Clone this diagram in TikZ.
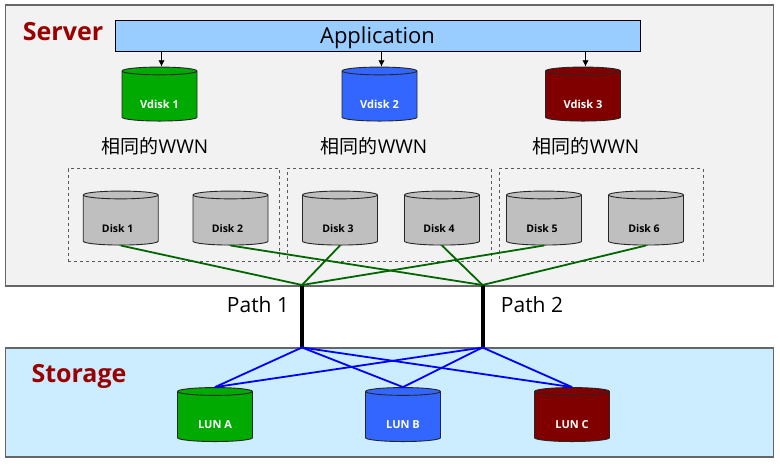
\documentclass[tikz,border=0pt]{standalone}
\usepackage{fontspec}
\setmainfont{Open Sans}
\newfontfamily\cjkfont{Noto Sans CJK SC}
\usetikzlibrary{arrows.meta,positioning,shapes.geometric}
\definecolor{panelgray}{HTML}{F2F2F2}
\definecolor{panelblue}{HTML}{CCECFF}
\definecolor{appblue}{HTML}{99CCFF}
\definecolor{diskgreen}{HTML}{00AA00}
\definecolor{diskblue}{HTML}{3366FF}
\definecolor{diskred}{HTML}{800000}
\definecolor{diskgray}{HTML}{BFBFBF}
\definecolor{titlered}{HTML}{990000}
\definecolor{wiregreen}{HTML}{006600}

\begin{document}
\begin{tikzpicture}[x=1pt, y=-1pt, font=\fontsize{10}{12}\selectfont]
\tikzstyle{panel} = [draw=black!60, line width=1.1pt, inner sep=0pt]
\tikzstyle{title} = [font=\fontsize{25}{29}\selectfont\bfseries, text=titlered]
\tikzstyle{can} = [cylinder, shape border rotate=90, aspect=1.3, draw=black!85, line width=0.9pt, minimum width=75pt, minimum height=54pt, inner sep=3pt]
\tikzstyle{canlabel} = [font=\fontsize{10.5}{12}\selectfont\bfseries]
\tikzstyle{whitelabel} = [font=\fontsize{11}{13}\selectfont\bfseries, text=white]
\tikzstyle{group} = [draw=black!65, dashed, line width=1pt, inner sep=0pt]
\tikzstyle{apptext} = [font=\fontsize{22}{26}\selectfont, text height=17pt, text depth=0.8pt]
\tikzstyle{pathtext} = [font=\fontsize{21}{25}\selectfont]
\tikzstyle{wwn} = [font=\fontsize{19}{23}\selectfont]
\tikzstyle{arrow} = [-{Latex[length=2.2mm,width=2.2mm]}, line width=0.8pt]
\tikzstyle{green wire} = [wiregreen, line width=1.8pt]
\tikzstyle{blue wire} = [blue, line width=1.8pt]
\useasboundingbox (0,0) rectangle (780,465);
\fill[white] (0,0) rectangle (780,465);
% panels
\node[panel, fill=panelgray, minimum width=768pt, minimum height=281pt] (server) at (389.5,145.5) {};
\node[panel, fill=panelblue, minimum width=768pt, minimum height=109pt] (storage) at (389.5,402.5) {};
\node[title] (servertext) at (63,32) {Server};
\node[title] (storagetext) at (79,376) {Storage};
\node[draw, fill=appblue, line width=0.8pt, minimum width=525pt, minimum height=31pt, inner sep=0pt, apptext] (app) at (377.5,35.5) {Application};
% virtual disks
\node[can, fill=diskgreen, label={[whitelabel, yshift=-7pt]center:Vdisk 1}] (v1) at (159.5,97) {};
\node[can, fill=diskblue, label={[whitelabel, yshift=-7pt]center:Vdisk 2}] (v2) at (379.5,97) {};
\node[can, fill=diskred, label={[whitelabel, yshift=-7pt]center:Vdisk 3}] (v3) at (583,97) {};
\node[wwn] (wwn1) at (155,146) {{\cjkfont 相同的}WWN};
\node[wwn] (wwn2) at (374,146) {{\cjkfont 相同的}WWN};
\node[wwn] (wwn3) at (586,146) {{\cjkfont 相同的}WWN};
% disk groups
\node[group, minimum width=211.5pt, minimum height=93pt] (g1) at (173.75,215.5) {};
\node[group, minimum width=204pt, minimum height=93pt] (g2) at (389,215.5) {};
\node[group, minimum width=204pt, minimum height=93pt] (g3) at (601,215.5) {};
\node[can, fill=diskgray, label={[canlabel, xshift=-3pt, yshift=-8pt]center:Disk 1}] (d1) at (120.7,221) {};
\node[can, fill=diskgray, label={[canlabel, xshift=-3pt, yshift=-8pt]center:Disk 2}] (d2) at (230.5,221) {};
\node[can, fill=diskgray, label={[canlabel, xshift=-2pt, yshift=-8pt]center:Disk 3}] (d3) at (340,221) {};
\node[can, fill=diskgray, label={[canlabel, xshift=-3pt, yshift=-8pt]center:Disk 4}] (d4) at (442,221) {};
\node[can, fill=diskgray, label={[canlabel, xshift=-2pt, yshift=-8pt]center:Disk 5}] (d5) at (544,221) {};
\node[can, fill=diskgray, label={[canlabel, xshift=-2pt, yshift=-8pt]center:Disk 6}] (d6) at (646,221) {};
% luns
\node[can, fill=diskgreen, label={[whitelabel, yshift=-7pt]center:LUN A}] (la) at (215,417.5) {};
\node[can, fill=diskblue, label={[whitelabel, yshift=-7pt]center:LUN B}] (lb) at (403,417.5) {};
\node[can, fill=diskred, label={[whitelabel, yshift=-7pt]center:LUN C}] (lc) at (572,417.5) {};
% paths
\coordinate (p1top) at (302,285);
\coordinate (p1bot) at (302,347.5);
\coordinate (p2top) at (482.5,285);
\coordinate (p2bot) at (482.5,347.5);
\node[pathtext] (path1) at (258,305) {Path 1};
\node[pathtext] (path2) at (532,305) {Path 2};
\draw[line width=4pt] (p1top) -- (p1bot);
\draw[line width=4pt] (p2top) -- (p2bot);
\draw[green wire] (d1.south) -- (p1top);
\draw[green wire] (d3.south) -- (p1top);
\draw[green wire] (d5.south) -- (p1top);
\draw[green wire] (d2.south) -- (p2top);
\draw[green wire] (d4.south) -- (p2top);
\draw[green wire] (d6.south) -- (p2top);
\draw[blue wire] (p1bot) -- (la.north);
\draw[blue wire] (p1bot) -- (lb.north);
\draw[blue wire] (p1bot) -- (lc.north);
\draw[blue wire] (p2bot) -- (la.north);
\draw[blue wire] (p2bot) -- (lb.north);
\draw[blue wire] (p2bot) -- (lc.north);
\draw[arrow] ([xshift=2pt]v1.north |- app.south) -- ([xshift=2pt]v1.north);
\draw[arrow] ([xshift=2pt]v2.north |- app.south) -- ([xshift=2pt]v2.north);
\draw[arrow] ([xshift=2.5pt]v3.north |- app.south) -- ([xshift=2.5pt]v3.north);
\end{tikzpicture}
\end{document}
